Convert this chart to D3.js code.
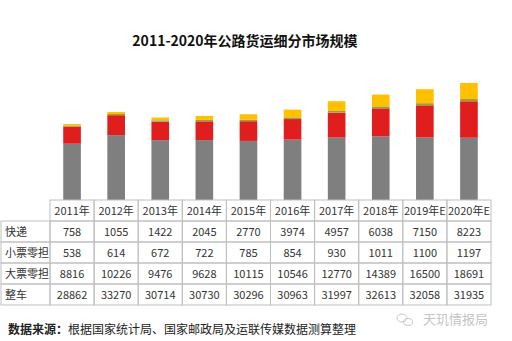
<!DOCTYPE html>
<html><head><meta charset="utf-8">
<script src="https://cdn.jsdelivr.net/npm/d3@7"></script>
<style>body{margin:0;background:#fff;} svg{display:block;}</style>
</head><body>
<script>
const years = ["2011年","2012年","2013年","2014年","2015年","2016年","2017年","2018年","2019年E","2020年E"];
const seriesNames = ["快递","小票零担","大票零担","整车"];
const kuaidi   = [758,1055,1422,2045,2770,3974,4957,6038,7150,8223];
const xiaopiao = [538,614,672,722,785,854,930,1011,1100,1197];
const dapiao   = [8816,10226,9476,9628,10115,10546,12770,14389,16500,18691];
const zhengche = [28862,33270,30714,30730,30296,30963,31997,32613,32058,31935];
const title = "2011-2020年公路货运细分市场规模";

const W=512,H=341;
const svg=d3.select("body").append("svg").attr("width",W).attr("height",H);
const font='"Noto Sans CJK SC","Noto Sans",sans-serif';

svg.append("text").attr("x",245).attr("y",46).attr("text-anchor","middle")
  .attr("font-family",font).attr("font-size",14).attr("font-weight","bold").attr("fill","#111").text(title);

const x=d3.scaleBand().domain(years).range([50,491]).paddingInner(0.6).paddingOuter(0.3);
const y=d3.scaleLinear().domain([0,60000]).range([200,83]);
const step=x.step(), bw=x.bandwidth();

const values={"快递":kuaidi,"小票零担":xiaopiao,"大票零担":dapiao,"整车":zhengche};
const rows=years.map((yr,i)=>({year:yr,"整车":zhengche[i],"大票零担":dapiao[i],"小票零担":xiaopiao[i],"快递":kuaidi[i]}));
const keys=["整车","大票零担","小票零担","快递"];
const colors={"整车":"#7f7f7f","大票零担":"#e01e1e","小票零担":"#9aa236","快递":"#ffc000"};
const stack=d3.stack().keys(keys)(rows);
svg.append("g").selectAll("g").data(stack).join("g").attr("fill",d=>colors[d.key])
  .selectAll("rect").data(d=>d).join("rect")
  .attr("x",d=>x(d.data.year)).attr("width",bw)
  .attr("y",d=>y(d[1])).attr("height",d=>y(d[0])-y(d[1]));

// table
const colLeft=yr=>x(yr)-(step-bw)/2;
const tableTop=200, headH=21, rowH=21, labelLeft=1, gridLeft=50, gridRight=491;
const t=svg.append("g").attr("font-family",font).attr("font-size",11).attr("fill","#333");
const lineC="#bfbfbf";
// header
years.forEach(yr=>{
  t.append("rect").attr("x",colLeft(yr)).attr("y",tableTop).attr("width",step).attr("height",headH)
   .attr("fill","none").attr("stroke",lineC);
  t.append("text").attr("x",colLeft(yr)+step/2).attr("y",tableTop+headH/2+4).attr("text-anchor","middle").text(yr);
});
seriesNames.forEach((name,r)=>{
  const ry=tableTop+headH+r*rowH;
  t.append("rect").attr("x",labelLeft).attr("y",ry).attr("width",gridLeft-labelLeft).attr("height",rowH)
   .attr("fill","none").attr("stroke",lineC);
  t.append("text").attr("x",labelLeft+4).attr("y",ry+rowH/2+4).text(name);
  years.forEach((yr,i)=>{
    t.append("rect").attr("x",colLeft(yr)).attr("y",ry).attr("width",step).attr("height",rowH)
     .attr("fill","none").attr("stroke",lineC);
    t.append("text").attr("x",colLeft(yr)+step/2).attr("y",ry+rowH/2+4).attr("text-anchor","middle").text(values[name][i]);
  });
});

// footer
const f=svg.append("text").attr("x",8).attr("y",334).attr("font-family",font).attr("font-size",12).attr("fill","#222");
f.append("tspan").attr("font-weight","bold").text("数据来源：");
f.append("tspan").text("根据国家统计局、国家邮政局及运联传媒数据测算整理");

// watermark
const wm=svg.append("g").attr("fill","none").attr("stroke","#c8c8c8").attr("stroke-width",1);
wm.append("ellipse").attr("cx",402).attr("cy",318).attr("rx",5).attr("ry",4);
wm.append("ellipse").attr("cx",408).attr("cy",322).attr("rx",4.5).attr("ry",3.5);
svg.append("text").attr("x",423).attr("y",324).attr("font-family",font).attr("font-size",13)
  .attr("fill","#c4c4c4").text("天玑情报局");
</script>
</body></html>
